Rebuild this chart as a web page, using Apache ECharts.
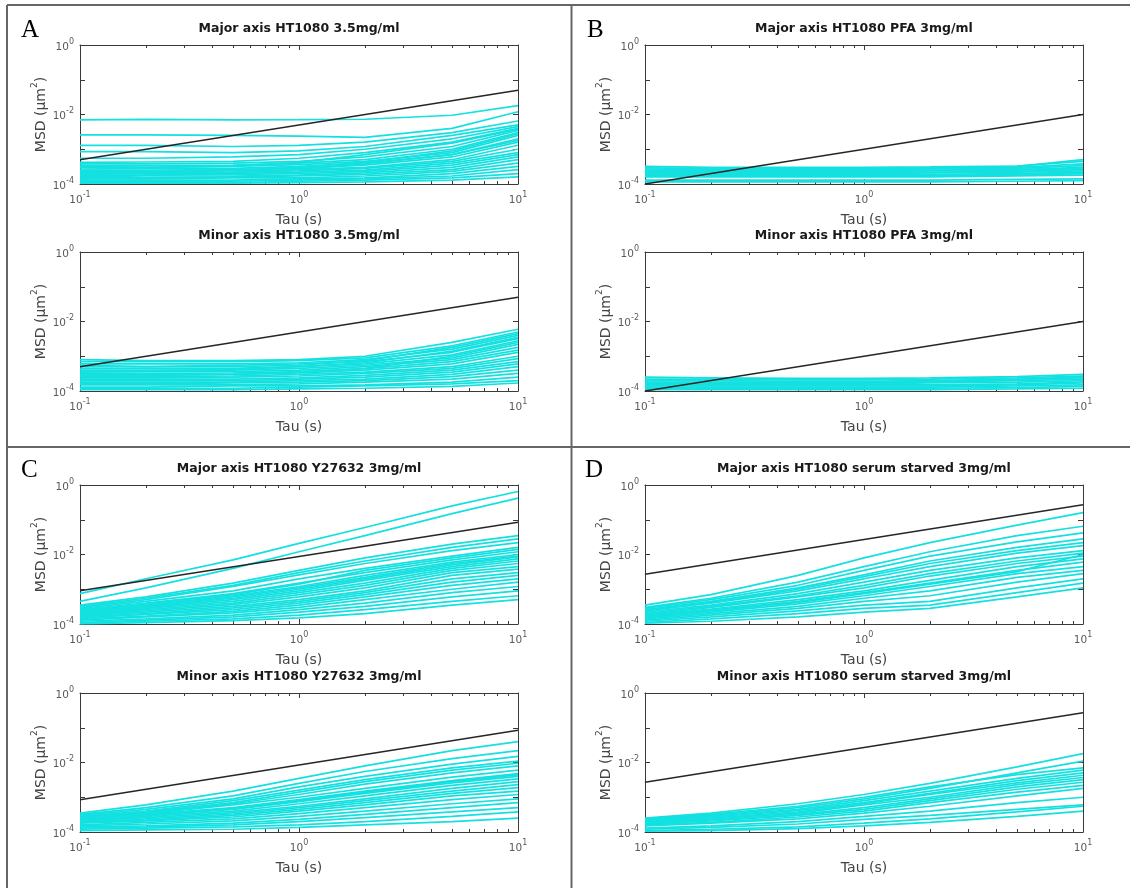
<!DOCTYPE html>
<html>
<head>
<meta charset="utf-8">
<script src="https://cdn.jsdelivr.net/npm/echarts@6/dist/echarts.min.js"></script>
<style>
  html, body { margin: 0; padding: 0; background: #ffffff; }
  #chart { width: 1130px; height: 888px; }
</style>
</head>
<body>
<div id="chart"></div>
<script>
// Lag times (s) at which each MSD trace is sampled
const tau = [0.1, 0.2, 0.5, 1, 2, 5, 10];
// Ends of the slope-1 reference line
const tauEnds = [0.1, 10];

// Tick positions
const xMajorTicks = [0.1, 1, 10];
const xMinorTicks = [0.2, 0.3, 0.4, 0.5, 0.6, 0.7, 0.8, 0.9, 2, 3, 4, 5, 6, 7, 8, 9];
const yTicks = [1e-4, 1e-3, 1e-2, 1e-1, 1];
const yTickLabels = [1e-4, 1e-2, 1];

const panelLetters = ['A', 'B', 'C', 'D'];
const plotTitles = [
  'Major axis HT1080 3.5mg/ml',
  'Minor axis HT1080 3.5mg/ml',
  'Major axis HT1080 PFA 3mg/ml',
  'Minor axis HT1080 PFA 3mg/ml',
  'Major axis HT1080 Y27632 3mg/ml',
  'Minor axis HT1080 Y27632 3mg/ml',
  'Major axis HT1080 serum starved 3mg/ml',
  'Minor axis HT1080 serum starved 3mg/ml'
];

// Reference lines (MSD at tau = 0.1 s and 10 s)
const refMajorA = [5e-4, 5e-2];
const refMinorA = [5e-4, 5e-2];
const refMajorB = [1e-4, 1e-2];
const refMinorB = [1e-4, 1e-2];
const refMajorC = [9e-4, 8.5e-2];
const refMinorC = [8.5e-4, 8.5e-2];
const refMajorD = [2.7e-3, 2.7e-1];
const refMinorD = [2.7e-3, 2.7e-1];

// MSD traces (um^2), one row per cell, sampled at tau
const msdMajorA = [
  [7.0e-3, 7.2e-3, 7.0e-3, 7.1e-3, 7.3e-3, 9.5e-3, 1.8e-2],
  [2.6e-3, 2.6e-3, 2.5e-3, 2.4e-3, 2.2e-3, 4.0e-3, 1.2e-2],
  [1.3e-3, 1.3e-3, 1.2e-3, 1.3e-3, 1.6e-3, 3.0e-3, 6.5e-3],
  [8.5e-4, 8.5e-4, 8.0e-4, 9.0e-4, 1.2e-3, 2.5e-3, 5.0e-3],
  [5.5e-4, 5.5e-4, 6.0e-4, 7.0e-4, 1.0e-3, 2.0e-3, 4.5e-3],
  [4.2e-4, 4.3e-4, 4.5e-4, 5.5e-4, 8.0e-4, 1.6e-3, 4.0e-3],
  [3.8e-4, 3.8e-4, 4.0e-4, 4.5e-4, 6.0e-4, 1.2e-3, 3.5e-3],
  [3.4e-4, 3.4e-4, 3.5e-4, 4.0e-4, 5.0e-4, 1.0e-3, 3.0e-3],
  [3.2e-4, 3.0e-4, 3.3e-4, 4.2e-4, 7.0e-4, 1.5e-3, 3.8e-3],
  [3.0e-4, 3.0e-4, 3.2e-4, 3.6e-4, 4.5e-4, 8.0e-4, 2.5e-3],
  [2.7e-4, 2.8e-4, 2.8e-4, 3.2e-4, 4.0e-4, 7.0e-4, 2.0e-3],
  [2.5e-4, 2.5e-4, 2.6e-4, 2.8e-4, 3.5e-4, 6.0e-4, 1.6e-3],
  [2.3e-4, 2.3e-4, 2.4e-4, 2.6e-4, 3.0e-4, 5.0e-4, 1.3e-3],
  [2.1e-4, 2.1e-4, 2.2e-4, 2.4e-4, 2.8e-4, 4.5e-4, 1.0e-3],
  [2.0e-4, 2.2e-4, 2.5e-4, 3.0e-4, 4.2e-4, 9.0e-4, 2.8e-3],
  [1.9e-4, 2.0e-4, 2.0e-4, 2.2e-4, 2.5e-4, 4.0e-4, 8.0e-4],
  [1.8e-4, 1.8e-4, 1.9e-4, 2.0e-4, 2.3e-4, 3.5e-4, 7.0e-4],
  [1.7e-4, 1.8e-4, 2.1e-4, 2.7e-4, 3.8e-4, 7.0e-4, 1.8e-3],
  [1.6e-4, 1.7e-4, 1.7e-4, 1.8e-4, 2.1e-4, 3.0e-4, 6.0e-4],
  [1.5e-4, 1.5e-4, 1.6e-4, 1.7e-4, 1.9e-4, 2.6e-4, 5.0e-4],
  [1.4e-4, 1.4e-4, 1.5e-4, 1.5e-4, 1.7e-4, 2.3e-4, 4.0e-4],
  [1.3e-4, 1.3e-4, 1.3e-4, 1.4e-4, 1.5e-4, 2.0e-4, 3.2e-4],
  [1.2e-4, 1.2e-4, 1.2e-4, 1.3e-4, 1.4e-4, 1.7e-4, 2.6e-4],
  [1.1e-4, 1.1e-4, 1.1e-4, 1.2e-4, 1.3e-4, 1.5e-4, 2.0e-4],
  [1.05e-4, 1.05e-4, 1.05e-4, 1.1e-4, 1.15e-4, 1.3e-4, 1.6e-4]
];
const msdMinorA = [
  [8.0e-4, 7.5e-4, 7.5e-4, 8.0e-4, 1.0e-3, 2.5e-3, 6.0e-3],
  [7.0e-4, 7.0e-4, 7.0e-4, 7.5e-4, 9.0e-4, 2.0e-3, 5.0e-3],
  [6.0e-4, 6.0e-4, 6.0e-4, 6.5e-4, 8.0e-4, 1.6e-3, 4.0e-3],
  [5.5e-4, 5.0e-4, 5.0e-4, 5.5e-4, 7.5e-4, 1.8e-3, 4.5e-3],
  [5.0e-4, 5.0e-4, 5.5e-4, 6.0e-4, 7.0e-4, 1.3e-3, 3.2e-3],
  [4.5e-4, 4.5e-4, 4.5e-4, 5.0e-4, 6.0e-4, 1.1e-3, 2.8e-3],
  [4.0e-4, 4.0e-4, 4.0e-4, 4.5e-4, 5.5e-4, 9.0e-4, 2.2e-3],
  [3.8e-4, 3.8e-4, 4.2e-4, 5.0e-4, 6.5e-4, 1.4e-3, 3.5e-3],
  [3.5e-4, 3.6e-4, 3.6e-4, 4.0e-4, 5.0e-4, 8.0e-4, 1.8e-3],
  [3.2e-4, 3.2e-4, 3.3e-4, 3.6e-4, 4.4e-4, 7.0e-4, 1.5e-3],
  [2.9e-4, 2.9e-4, 3.0e-4, 3.3e-4, 4.0e-4, 6.0e-4, 1.3e-3],
  [2.7e-4, 2.8e-4, 3.0e-4, 3.5e-4, 4.5e-4, 1.0e-3, 2.5e-3],
  [2.6e-4, 2.6e-4, 2.7e-4, 3.0e-4, 3.5e-4, 5.0e-4, 1.0e-3],
  [2.4e-4, 2.4e-4, 2.5e-4, 2.7e-4, 3.2e-4, 4.5e-4, 8.5e-4],
  [2.2e-4, 2.2e-4, 2.2e-4, 2.4e-4, 2.8e-4, 4.0e-4, 7.0e-4],
  [2.0e-4, 2.0e-4, 2.0e-4, 2.2e-4, 2.5e-4, 3.5e-4, 6.0e-4],
  [1.8e-4, 1.8e-4, 1.8e-4, 2.0e-4, 2.2e-4, 3.0e-4, 5.0e-4],
  [1.6e-4, 1.6e-4, 1.7e-4, 1.8e-4, 2.0e-4, 2.6e-4, 4.0e-4],
  [1.5e-4, 1.5e-4, 1.5e-4, 1.6e-4, 1.8e-4, 2.2e-4, 3.2e-4],
  [1.3e-4, 1.3e-4, 1.4e-4, 1.4e-4, 1.5e-4, 1.8e-4, 2.5e-4],
  [1.2e-4, 1.2e-4, 1.2e-4, 1.3e-4, 1.4e-4, 1.6e-4, 2.0e-4],
  [1.1e-4, 1.1e-4, 1.1e-4, 1.15e-4, 1.2e-4, 1.35e-4, 1.7e-4]
];
const msdMajorB = [
  [3.2e-4, 3.0e-4, 3.0e-4, 3.0e-4, 3.1e-4, 3.3e-4, 4.5e-4],
  [2.9e-4, 2.8e-4, 2.8e-4, 2.8e-4, 2.9e-4, 3.0e-4, 3.8e-4],
  [2.7e-4, 2.6e-4, 2.6e-4, 2.6e-4, 2.7e-4, 2.8e-4, 3.4e-4],
  [2.4e-4, 2.4e-4, 2.5e-4, 2.6e-4, 2.8e-4, 3.2e-4, 5.0e-4],
  [2.5e-4, 2.5e-4, 2.4e-4, 2.5e-4, 2.5e-4, 2.6e-4, 3.0e-4],
  [2.3e-4, 2.3e-4, 2.3e-4, 2.3e-4, 2.4e-4, 2.5e-4, 2.8e-4],
  [2.2e-4, 2.1e-4, 2.1e-4, 2.2e-4, 2.2e-4, 2.3e-4, 2.6e-4],
  [2.0e-4, 2.0e-4, 2.0e-4, 2.0e-4, 2.1e-4, 2.2e-4, 2.4e-4],
  [1.9e-4, 1.9e-4, 1.9e-4, 1.9e-4, 1.9e-4, 2.0e-4, 2.2e-4],
  [1.8e-4, 1.8e-4, 1.8e-4, 1.8e-4, 1.8e-4, 1.9e-4, 2.1e-4],
  [1.7e-4, 1.7e-4, 1.7e-4, 1.7e-4, 1.7e-4, 1.8e-4, 2.0e-4],
  [1.6e-4, 1.6e-4, 1.6e-4, 1.6e-4, 1.6e-4, 1.7e-4, 1.8e-4],
  [1.3e-4, 1.3e-4, 1.3e-4, 1.3e-4, 1.3e-4, 1.35e-4, 1.4e-4],
  [1.15e-4, 1.15e-4, 1.15e-4, 1.15e-4, 1.15e-4, 1.2e-4, 1.25e-4]
];
const msdMinorB = [
  [2.5e-4, 2.4e-4, 2.3e-4, 2.3e-4, 2.4e-4, 2.6e-4, 3.0e-4],
  [2.2e-4, 2.2e-4, 2.1e-4, 2.1e-4, 2.2e-4, 2.4e-4, 2.7e-4],
  [2.0e-4, 2.0e-4, 1.9e-4, 1.9e-4, 2.0e-4, 2.2e-4, 2.4e-4],
  [1.8e-4, 1.8e-4, 1.8e-4, 1.8e-4, 1.8e-4, 2.0e-4, 2.2e-4],
  [1.6e-4, 1.7e-4, 1.7e-4, 1.8e-4, 1.9e-4, 2.1e-4, 2.6e-4],
  [1.7e-4, 1.6e-4, 1.6e-4, 1.6e-4, 1.7e-4, 1.8e-4, 2.0e-4],
  [1.5e-4, 1.5e-4, 1.5e-4, 1.5e-4, 1.5e-4, 1.6e-4, 1.8e-4],
  [1.4e-4, 1.4e-4, 1.4e-4, 1.4e-4, 1.4e-4, 1.5e-4, 1.7e-4],
  [1.3e-4, 1.3e-4, 1.3e-4, 1.3e-4, 1.3e-4, 1.4e-4, 1.5e-4],
  [1.2e-4, 1.2e-4, 1.2e-4, 1.2e-4, 1.2e-4, 1.25e-4, 1.35e-4],
  [1.1e-4, 1.1e-4, 1.1e-4, 1.1e-4, 1.1e-4, 1.15e-4, 1.2e-4]
];
const msdMajorC = [
  [7.5e-4, 2.0e-3, 7.0e-3, 2.1e-2, 6.0e-2, 2.5e-1, 6.5e-1],
  [4.5e-4, 1.1e-3, 4.0e-3, 1.2e-2, 3.5e-2, 1.5e-1, 4.2e-1],
  [3.5e-4, 6.0e-4, 1.5e-3, 3.5e-3, 8.0e-3, 2.0e-2, 3.5e-2],
  [3.2e-4, 5.5e-4, 1.3e-3, 3.0e-3, 6.5e-3, 1.6e-2, 2.8e-2],
  [3.0e-4, 5.0e-4, 1.2e-3, 2.6e-3, 5.5e-3, 1.3e-2, 2.2e-2],
  [2.8e-4, 4.5e-4, 9.0e-4, 2.0e-3, 4.0e-3, 9.0e-3, 1.6e-2],
  [2.6e-4, 4.0e-4, 7.5e-4, 1.5e-3, 3.0e-3, 7.0e-3, 1.2e-2],
  [2.5e-4, 3.8e-4, 7.0e-4, 1.4e-3, 3.5e-3, 8.0e-3, 1.4e-2],
  [2.4e-4, 3.5e-4, 6.5e-4, 1.2e-3, 2.5e-3, 6.0e-3, 1.0e-2],
  [2.3e-4, 3.2e-4, 5.5e-4, 1.0e-3, 2.0e-3, 5.0e-3, 8.5e-3],
  [2.2e-4, 3.3e-4, 6.0e-4, 1.1e-3, 2.2e-3, 5.5e-3, 9.0e-3],
  [2.1e-4, 3.0e-4, 5.0e-4, 9.0e-4, 1.8e-3, 4.5e-3, 7.5e-3],
  [2.0e-4, 2.8e-4, 4.5e-4, 8.0e-4, 1.5e-3, 4.0e-3, 6.5e-3],
  [1.9e-4, 2.6e-4, 4.0e-4, 7.0e-4, 1.3e-3, 3.5e-3, 5.5e-3],
  [1.8e-4, 2.4e-4, 3.6e-4, 6.0e-4, 1.1e-3, 3.0e-3, 4.5e-3],
  [1.7e-4, 2.2e-4, 3.2e-4, 5.0e-4, 9.0e-4, 2.5e-3, 3.8e-3],
  [1.6e-4, 2.0e-4, 2.9e-4, 4.5e-4, 8.0e-4, 2.0e-3, 3.0e-3],
  [1.5e-4, 1.9e-4, 2.6e-4, 4.0e-4, 7.0e-4, 1.6e-3, 2.5e-3],
  [1.4e-4, 1.7e-4, 2.3e-4, 3.5e-4, 6.0e-4, 1.3e-3, 2.0e-3],
  [1.3e-4, 1.6e-4, 2.1e-4, 3.0e-4, 5.0e-4, 1.0e-3, 1.6e-3],
  [1.2e-4, 1.4e-4, 1.8e-4, 2.6e-4, 4.0e-4, 8.0e-4, 1.2e-3],
  [1.1e-4, 1.3e-4, 1.6e-4, 2.2e-4, 3.2e-4, 6.0e-4, 9.0e-4],
  [1.05e-4, 1.2e-4, 1.4e-4, 1.8e-4, 2.6e-4, 4.5e-4, 6.5e-4],
  [1.0e-4, 1.1e-4, 1.25e-4, 1.5e-4, 2.0e-4, 3.5e-4, 5.0e-4]
];
const msdMinorC = [
  [3.5e-4, 6.0e-4, 1.5e-3, 3.5e-3, 8.0e-3, 2.2e-2, 4.0e-2],
  [3.2e-4, 5.0e-4, 1.1e-3, 2.5e-3, 5.5e-3, 1.3e-2, 2.2e-2],
  [3.0e-4, 4.5e-4, 9.0e-4, 2.0e-3, 4.0e-3, 9.0e-3, 1.5e-2],
  [2.8e-4, 4.0e-4, 8.0e-4, 1.6e-3, 3.2e-3, 7.0e-3, 1.1e-2],
  [2.7e-4, 3.8e-4, 7.0e-4, 1.4e-3, 2.8e-3, 6.0e-3, 9.5e-3],
  [2.6e-4, 3.6e-4, 6.5e-4, 1.2e-3, 2.4e-3, 5.0e-3, 8.0e-3],
  [2.5e-4, 3.4e-4, 6.0e-4, 1.0e-3, 1.8e-3, 3.8e-3, 6.0e-3],
  [2.4e-4, 3.2e-4, 5.0e-4, 8.5e-4, 1.5e-3, 3.0e-3, 4.8e-3],
  [2.35e-4, 3.1e-4, 4.8e-4, 8.0e-4, 1.4e-3, 2.8e-3, 4.4e-3],
  [2.3e-4, 3.0e-4, 4.5e-4, 7.5e-4, 1.3e-3, 2.6e-3, 4.0e-3],
  [2.2e-4, 2.8e-4, 4.0e-4, 6.5e-4, 1.1e-3, 2.2e-3, 3.4e-3],
  [2.1e-4, 2.6e-4, 3.6e-4, 5.5e-4, 9.0e-4, 1.8e-3, 2.8e-3],
  [2.0e-4, 2.4e-4, 3.3e-4, 5.0e-4, 8.0e-4, 1.5e-3, 2.3e-3],
  [1.9e-4, 2.2e-4, 3.0e-4, 4.5e-4, 7.0e-4, 1.3e-3, 1.9e-3],
  [1.8e-4, 2.1e-4, 2.7e-4, 4.0e-4, 6.0e-4, 1.1e-3, 1.5e-3],
  [1.6e-4, 1.9e-4, 2.4e-4, 3.4e-4, 5.0e-4, 8.5e-4, 1.2e-3],
  [1.5e-4, 1.7e-4, 2.1e-4, 2.8e-4, 4.0e-4, 6.5e-4, 9.0e-4],
  [1.4e-4, 1.5e-4, 1.8e-4, 2.3e-4, 3.2e-4, 5.0e-4, 7.0e-4],
  [1.3e-4, 1.4e-4, 1.6e-4, 2.0e-4, 2.6e-4, 3.8e-4, 5.0e-4],
  [1.2e-4, 1.3e-4, 1.4e-4, 1.6e-4, 2.0e-4, 2.8e-4, 3.8e-4],
  [1.1e-4, 1.15e-4, 1.2e-4, 1.35e-4, 1.6e-4, 2.0e-4, 2.5e-4]
];
const msdMajorD = [
  [3.5e-4, 7.0e-4, 2.5e-3, 8.0e-3, 2.2e-2, 7.0e-2, 1.6e-1],
  [3.0e-4, 5.5e-4, 1.6e-3, 4.5e-3, 1.2e-2, 3.5e-2, 6.5e-2],
  [2.8e-4, 5.0e-4, 1.3e-3, 3.5e-3, 9.0e-3, 2.3e-2, 4.2e-2],
  [2.6e-4, 4.5e-4, 1.1e-3, 2.6e-3, 6.5e-3, 1.6e-2, 2.8e-2],
  [2.5e-4, 4.2e-4, 1.0e-3, 2.3e-3, 5.5e-3, 1.3e-2, 2.2e-2],
  [2.4e-4, 4.0e-4, 9.0e-4, 2.0e-3, 4.5e-3, 1.1e-2, 1.8e-2],
  [2.2e-4, 3.5e-4, 7.5e-4, 1.6e-3, 3.5e-3, 8.0e-3, 1.3e-2],
  [2.0e-4, 3.2e-4, 6.5e-4, 1.3e-3, 2.8e-3, 6.5e-3, 1.1e-2],
  [1.9e-4, 3.0e-4, 6.0e-4, 1.1e-3, 2.4e-3, 5.5e-3, 9.0e-3],
  [1.8e-4, 2.7e-4, 5.0e-4, 9.0e-4, 1.8e-3, 4.5e-3, 7.5e-3],
  [1.7e-4, 2.5e-4, 4.5e-4, 8.0e-4, 1.5e-3, 3.5e-3, 6.0e-3],
  [1.6e-4, 2.4e-4, 4.2e-4, 7.5e-4, 1.4e-3, 3.2e-3, 1.0e-2],
  [1.5e-4, 2.2e-4, 3.8e-4, 6.5e-4, 1.2e-3, 2.8e-3, 4.5e-3],
  [1.4e-4, 2.0e-4, 3.2e-4, 5.5e-4, 9.0e-4, 2.2e-3, 3.5e-3],
  [1.3e-4, 1.8e-4, 2.8e-4, 4.5e-4, 6.5e-4, 1.6e-3, 2.8e-3],
  [1.2e-4, 1.6e-4, 2.4e-4, 3.5e-4, 4.5e-4, 1.1e-3, 2.0e-3],
  [1.1e-4, 1.4e-4, 2.0e-4, 2.8e-4, 3.5e-4, 8.0e-4, 1.5e-3],
  [1.05e-4, 1.2e-4, 1.6e-4, 2.2e-4, 2.8e-4, 6.0e-4, 1.1e-3]
];
const msdMinorD = [
  [2.5e-4, 3.5e-4, 6.5e-4, 1.2e-3, 2.5e-3, 7.5e-3, 1.8e-2],
  [2.3e-4, 3.0e-4, 5.0e-4, 9.0e-4, 1.8e-3, 5.0e-3, 1.1e-2],
  [2.4e-4, 3.2e-4, 5.5e-4, 1.0e-3, 2.0e-3, 4.5e-3, 7.0e-3],
  [2.2e-4, 2.8e-4, 4.5e-4, 8.0e-4, 1.5e-3, 3.5e-3, 6.0e-3],
  [2.1e-4, 2.7e-4, 4.2e-4, 7.0e-4, 1.3e-3, 3.0e-3, 5.0e-3],
  [2.0e-4, 2.5e-4, 3.8e-4, 6.5e-4, 1.2e-3, 2.6e-3, 4.3e-3],
  [1.9e-4, 2.4e-4, 3.5e-4, 6.0e-4, 1.0e-3, 2.3e-3, 3.7e-3],
  [1.8e-4, 2.2e-4, 3.2e-4, 5.0e-4, 9.0e-4, 2.0e-3, 3.2e-3],
  [1.7e-4, 2.1e-4, 3.0e-4, 4.5e-4, 8.0e-4, 1.7e-3, 2.7e-3],
  [1.6e-4, 1.9e-4, 2.7e-4, 4.0e-4, 7.0e-4, 1.4e-3, 2.2e-3],
  [1.5e-4, 1.8e-4, 2.4e-4, 3.5e-4, 5.5e-4, 1.1e-3, 1.8e-3],
  [1.3e-4, 1.5e-4, 2.0e-4, 2.8e-4, 4.0e-4, 7.0e-4, 1.0e-3],
  [1.2e-4, 1.35e-4, 1.7e-4, 2.3e-4, 3.0e-4, 4.5e-4, 6.0e-4],
  [1.1e-4, 1.2e-4, 1.4e-4, 1.8e-4, 2.4e-4, 3.8e-4, 5.5e-4],
  [1.05e-4, 1.1e-4, 1.25e-4, 1.5e-4, 1.9e-4, 2.8e-4, 4.0e-4]
];

const traceSets = [msdMajorA, msdMinorA, msdMajorB, msdMinorB, msdMajorC, msdMinorC, msdMajorD, msdMinorD];
const refSets = [refMajorA, refMinorA, refMajorB, refMinorB, refMajorC, refMinorC, refMajorD, refMinorD];

// ---- layout ----
const FONT = '"DejaVu Sans", "Liberation Sans", sans-serif';
const CYAN = '#14e0e0';
const AXIS_COLOR = '#3a3a3a';
const LABEL_COLOR = '#5a5a5a';
const plotW = 438, plotH = 139;
const colLeft = [80, 645];
const rowTop = [45, 252, 485, 693];
// plot index -> [column, row] (A: col 0 rows 0-1, B: col 1 rows 0-1, C: col 0 rows 2-3, D: col 1 rows 2-3)
const plotPos = [
  [0, 0], [0, 1], [1, 0], [1, 1], [0, 2], [0, 3], [1, 2], [1, 3]
];

const expOf = v => Math.round(Math.log10(v));
const tickRich = {
  b: { fontFamily: FONT, fontSize: 10.5, color: LABEL_COLOR, lineHeight: 15, verticalAlign: 'bottom' },
  s: { fontFamily: FONT, fontSize: 8, color: LABEL_COLOR, lineHeight: 15, verticalAlign: 'top' }
};
const xLabelFormatter = v => '{b|10}{s|' + expOf(v) + '}';
const yLabelFormatter = v => {
  const e = expOf(v);
  if (e % 2 !== 0) return '';
  return '{b|10}{s|' + e + '}';
};

const grids = [], xAxes = [], yAxes = [], series = [], graphics = [];

plotPos.forEach((pos, i) => {
  const left = colLeft[pos[0]];
  const top = rowTop[pos[1]];
  grids.push({ left: left, top: top, width: plotW, height: plotH, containLabel: false });

  const lineStyle = { color: AXIS_COLOR, width: 1 };
  const xBase = { type: 'log', logBase: 10, gridIndex: i, min: 0.1, max: 10, splitLine: { show: false } };
  // bottom axis: labels, name, major ticks
  xAxes.push(Object.assign({}, xBase, {
    position: 'bottom',
    axisLine: { show: true, lineStyle: lineStyle },
    axisTick: { show: true, inside: true, length: 5, customValues: xMajorTicks, lineStyle: lineStyle },
    axisLabel: { show: true, customValues: xMajorTicks, formatter: xLabelFormatter, rich: tickRich, margin: 7 },
    name: 'Tau (s)', nameLocation: 'middle', nameGap: 29,
    nameTextStyle: { fontFamily: FONT, fontSize: 14, color: '#444' }
  }));
  // bottom minor ticks
  xAxes.push(Object.assign({}, xBase, {
    position: 'bottom',
    axisLine: { show: false },
    axisTick: { show: true, inside: true, length: 3, customValues: xMinorTicks, lineStyle: lineStyle },
    axisLabel: { show: false }
  }));
  // top edge of the box
  xAxes.push(Object.assign({}, xBase, {
    position: 'top',
    axisLine: { show: true, lineStyle: lineStyle },
    axisTick: { show: true, inside: true, length: 5, customValues: xMajorTicks, lineStyle: lineStyle },
    axisLabel: { show: false }
  }));
  xAxes.push(Object.assign({}, xBase, {
    position: 'top',
    axisLine: { show: false },
    axisTick: { show: true, inside: true, length: 3, customValues: xMinorTicks, lineStyle: lineStyle },
    axisLabel: { show: false }
  }));

  const yBase = { type: 'log', logBase: 10, gridIndex: i, min: 1e-4, max: 1, splitLine: { show: false } };
  yAxes.push(Object.assign({}, yBase, {
    position: 'left',
    axisLine: { show: true, lineStyle: lineStyle },
    axisTick: { show: true, inside: true, length: 5, customValues: yTicks, lineStyle: lineStyle },
    axisLabel: { show: true, customValues: yTickLabels, formatter: yLabelFormatter, rich: tickRich, margin: 6 },
    name: '{t|MSD (\u03bcm}{p|2}{t|)}', nameLocation: 'middle', nameGap: 32,
    nameTextStyle: {
      rich: {
        t: { fontFamily: FONT, fontSize: 14, color: '#444', lineHeight: 18, verticalAlign: 'bottom' },
        p: { fontFamily: FONT, fontSize: 9, color: '#444', lineHeight: 18, verticalAlign: 'top' }
      }
    }
  }));
  yAxes.push(Object.assign({}, yBase, {
    position: 'right',
    axisLine: { show: true, lineStyle: lineStyle },
    axisTick: { show: true, inside: true, length: 5, customValues: yTicks, lineStyle: lineStyle },
    axisLabel: { show: false }
  }));

  // MSD traces
  traceSets[i].forEach(row => {
    series.push({
      type: 'line', xAxisIndex: 4 * i, yAxisIndex: 2 * i,
      data: tau.map((t, j) => [t, row[j]]),
      showSymbol: false, symbol: 'none', silent: true, clip: true,
      lineStyle: { color: CYAN, width: 1.7 }, z: 2
    });
  });
  // slope-1 reference
  series.push({
    type: 'line', xAxisIndex: 4 * i, yAxisIndex: 2 * i,
    data: tauEnds.map((t, j) => [t, refSets[i][j]]),
    showSymbol: false, symbol: 'none', silent: true, clip: true,
    lineStyle: { color: '#262626', width: 1.5 }, z: 3
  });

  // subplot title
  graphics.push({
    type: 'text', x: left + plotW / 2, y: top - 16, silent: true,
    style: { text: plotTitles[i], font: 'bold 12.5px ' + FONT, fill: '#1a1a1a',
             textAlign: 'center', textVerticalAlign: 'middle' }
  });
});

// panel frame lines
const frameColor = '#666';
[
  [7, 5, 1130, 5],
  [7, 5, 7, 888],
  [571.5, 5, 571.5, 888],
  [7, 447, 1130, 447]
].forEach(s => {
  graphics.push({ type: 'line', silent: true, shape: { x1: s[0], y1: s[1], x2: s[2], y2: s[3] },
                  style: { stroke: frameColor, lineWidth: 2 } });
});

// panel letters
const letterPos = [[21, 30], [587, 30], [21, 470], [585, 470]];
panelLetters.forEach((L, k) => {
  graphics.push({ type: 'text', x: letterPos[k][0], y: letterPos[k][1], silent: true,
    style: { text: L, font: '25px "Liberation Serif", "Times New Roman", serif', fill: '#000',
             textAlign: 'left', textVerticalAlign: 'middle' } });
});

const chart = echarts.init(document.getElementById('chart'), null, { renderer: 'canvas' });
chart.setOption({
  backgroundColor: '#ffffff',
  animation: false,
  grid: grids,
  xAxis: xAxes,
  yAxis: yAxes,
  series: series,
  graphic: { elements: graphics }
});
</script>
</body>
</html>
